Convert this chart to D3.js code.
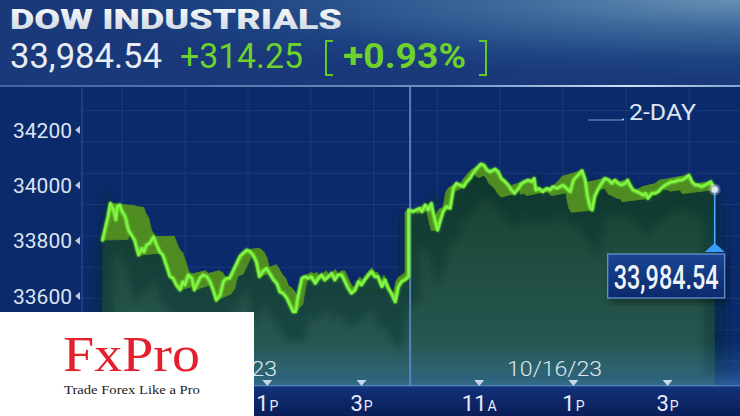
<!DOCTYPE html>
<html><head><meta charset="utf-8">
<script src="https://cdn.jsdelivr.net/npm/d3@7"></script>
<style>html,body{margin:0;padding:0;background:#0b2a6c;overflow:hidden}svg{display:block}</style>
</head><body><svg id="c" width="740" height="416"></svg>
<script>
// ---------------- data ----------------
const title = "DOW INDUSTRIALS";
const rangeLabel = "2-DAY";
const dayDates = ["10/13/23", "10/16/23"];
const dateLabelTimes = ["12:12", "12:36"];
const day1Times = ["9:30","9:33","9:37","9:40","9:44","9:47","9:49","9:52","9:55","9:59",
"10:03","10:07","10:11","10:16","10:20","10:23","10:26","10:30","10:35","10:39",
"10:43","10:47","10:52","10:56","11:00","11:04","11:09","11:12","11:15","11:19",
"11:24","11:27","11:30","11:34","11:38","11:43","11:47","11:51","11:55","12:00",
"12:04","12:08","12:12","12:17","12:21","12:25","12:29","12:34","12:38","12:42",
"12:46","12:50","12:54","12:59","13:03","13:08","13:12","13:16","13:20","13:25",
"13:29","13:33","13:36","13:39","13:44","13:48","13:52","13:56","14:01","14:05",
"14:09","14:13","14:18","14:22","14:26","14:30","14:35","14:39","14:43","14:47",
"14:52","14:56","15:00","15:04","15:09","15:13","15:17","15:21","15:26","15:30",
"15:34","15:38","15:43","15:47","15:51","15:55","16:00"];
const day1Values = [33802,33838,33887,33935,33911,33875,33923,33929,33905,33887,
33838,33820,33802,33748,33772,33760,33784,33790,33814,33784,
33760,33748,33706,33670,33664,33640,33622,33652,33640,33676,
33664,33622,33640,33664,33676,33670,33652,33622,33585,33604,
33652,33664,33664,33694,33718,33742,33754,33766,33760,33748,
33724,33670,33688,33700,33682,33658,33646,33615,33610,33592,
33567,33543,33543,33597,33664,33670,33664,33670,33646,33664,
33676,33658,33670,33682,33658,33676,33676,33652,33628,33610,
33622,33652,33640,33658,33676,33688,33670,33670,33634,33658,
33628,33610,33579,33634,33652,33658,33670.29];
const day2Times = ["9:30","9:36","9:40","9:44","9:47","9:51","9:55","9:59","10:01","10:05",
"10:07","10:10","10:14","10:18","10:23","10:27","10:31","10:35","10:40","10:44",
"10:48","10:52","10:57","11:02","11:06","11:10","11:14","11:20","11:24","11:28",
"11:33","11:37","11:41","11:45","11:50","11:54","11:58","12:02","12:07","12:10",
"12:12","12:16","12:21","12:26","12:30","12:34","12:39","12:43","12:47","12:51",
"12:56","13:00","13:04","13:06","13:11","13:15","13:18","13:21","13:24","13:27",
"13:32","13:36","13:40","13:45","13:49","13:53","13:57","14:01","14:06","14:09",
"14:12","14:16","14:21","14:25","14:29","14:32","14:35","14:40","14:44","14:48",
"14:52","14:57","15:01","15:05","15:09","15:14","15:18","15:22","15:27","15:31",
"15:35","15:39","15:43","15:48","15:52","15:55","15:57","16:00"];
const day2Values = [33911,33905,33911,33917,33905,33929,33911,33935,33905,33857,
33838,33868,33905,33923,33917,33989,34007,34001,33995,34013,
34025,34043,34061,34077,34073,34055,34049,34059,34049,34025,
34013,34001,33983,33971,33989,34007,34013,34019,34013,34025,
33983,33989,33977,33989,33983,33995,33989,33995,34001,33989,
33977,34019,34031,34037,34053,34019,33959,33923,33911,33959,
33989,34007,34025,34019,34007,34019,34007,34001,34007,34019,
34001,33983,33977,33971,33965,33971,33953,33971,33971,33977,
33989,34001,34007,34013,34013,34019,34019,34025,34037,34013,
34001,34001,33995,34001,34007,34013,34001,33984.54];
const yTickValues = [33600, 33800, 34000, 34200];
const xTickTimes = ["11:00", "13:00", "15:00"];
const xTickLabels = [["11","A"], ["1","P"], ["3","P"]];
const brandName = "FxPro";
const brandTagline = "Trade Forex Like a Pro";

// ---------------- helpers ----------------
const OPEN = 9*60+30, SESSION = 390;
function sessMin(t, day) { const [h,m] = t.split(":").map(Number); return day*SESSION + h*60+m - OPEN; }
const points = [];
day1Times.forEach((t,i)=>points.push({m:sessMin(t,0), v:day1Values[i]}));
day2Times.forEach((t,i)=>points.push({m:sessMin(t,1), v:day2Values[i]}));
const lastPrice = day2Values[day2Values.length-1];
const prevClose = day1Values[day1Values.length-1];
const chg = lastPrice - prevClose, pct = chg/prevClose*100;
const fmt = d3.format(",.2f");

const svg = d3.select("#c");
const x = d3.scaleLinear().domain([0, 2*SESSION]).range([102.5, 714.7]);
const y = d3.scaleLinear().domain([33600, 34200]).range([296, 130]);
const plotTop = 87, plotBottom = 386, plotLeft = 82;
const logo = {x:0, y:312, w:254, h:104};

// text squeezed horizontally to a target width (condensed look)
function fitText(parent, str, x0, y0, width, attrs, anchor) {
  const g = parent.append("g");
  const t = g.append("text").attr("x",0).attr("y",0).text(str);
  Object.entries(attrs).forEach(([k,v])=>t.attr(k,v));
  const w = t.node().getComputedTextLength();
  const s = width / w;
  const left = anchor === "middle" ? x0 - width/2 : (anchor === "end" ? x0 - width : x0);
  g.attr("transform", `translate(${left},${y0}) scale(${s},1)`);
  return g;
}

const defs = svg.append("defs");
function lin(id, x1,y1,x2,y2, stops){
  const g = defs.append("linearGradient").attr("id",id).attr("x1",x1).attr("y1",y1).attr("x2",x2).attr("y2",y2);
  stops.forEach(s=>g.append("stop").attr("offset",s[0]).attr("stop-color",s[1]).attr("stop-opacity",s[2]===undefined?1:s[2]));
}
const rg = defs.append("radialGradient").attr("id","hdr").attr("cx","1").attr("cy","0").attr("r","0.9");
[[0,"#6890b4"],[0.35,"#3d6a9c"],[0.75,"#1f4583"],[1,"#19397a"]].forEach(s=>rg.append("stop").attr("offset",s[0]).attr("stop-color",s[1]));
lin("hline","0","0","1","0",[[0,"#5f86bf",0.6],[0.6,"#86a9d6",0.8],[0.85,"#d0e4f5",1],[1,"#8fb0d6",0.9]]);
lin("areaG","0","0","0","1",[[0,"#143d2e"],[0.35,"#1d4a3c"],[1,"#2a5c58"]]);
lin("glow","0","0","0","1",[[0,"#2f6a9a",0],[0.7,"#3a78b0",0.35],[1,"#4a8cc8",0.55]]);
lin("band","0","0","0","1",[[0,"#12327a"],[1,"#091d58"]]);
lin("box","0","0","0","1",[[0,"#1a4592"],[1,"#0c2a6e"]]);
lin("ttl","0","0","0","1",[[0,"#ffffff"],[1,"#c9d3de"]]);
const f1 = defs.append("filter").attr("id","gl").attr("x","-20%").attr("y","-20%").attr("width","140%").attr("height","140%");
f1.append("feGaussianBlur").attr("stdDeviation",1.2).attr("result","b");
const mg = f1.append("feMerge"); mg.append("feMergeNode").attr("in","b"); mg.append("feMergeNode").attr("in","SourceGraphic");
const f2 = defs.append("filter").attr("id","blurA").attr("x","-5%").attr("y","-5%").attr("width","110%").attr("height","110%");
f2.append("feGaussianBlur").attr("stdDeviation",3);
defs.append("clipPath").attr("id","outsideLogo").attr("clipPathUnits","userSpaceOnUse")
  .append("rect").attr("x",logo.x+logo.w).attr("y",0).attr("width",740).attr("height",416);

// background
svg.append("rect").attr("width",740).attr("height",416).attr("fill","#0b2a6c");
svg.append("rect").attr("width",740).attr("height",plotTop-1).attr("fill","url(#hdr)");
svg.append("rect").attr("y",plotTop-2).attr("width",740).attr("height",2).attr("fill","url(#hline)");

// faint grid
const gGrid = svg.append("g").attr("stroke","#ffffff").attr("stroke-opacity",0.07).attr("stroke-width",1);
d3.range(110.7, plotBottom, 31.3).forEach(yy=>gGrid.append("line").attr("x1",plotLeft).attr("x2",740).attr("y1",yy).attr("y2",yy));
d3.range(122, 740, 63).forEach(xx=>gGrid.append("line").attr("x1",xx).attr("x2",xx).attr("y1",plotTop).attr("y2",plotBottom));

// perspective ribbon geometry
const V = [372, 232], k = 0.095;
const front = points.map(p=>[x(p.m), y(p.v)]);
const back = front.map(p=>[p[0]+k*(V[0]-p[0]), p[1]+k*(V[1]-p[1])]);

// area under line
const area = d3.area().x(d=>d[0]).y0(plotBottom).y1(d=>d[1]);
svg.append("path").attr("d",area(back)).attr("fill","url(#areaG)");
svg.append("path").attr("d",area(front)).attr("fill","url(#areaG)");
svg.append("path").attr("d",area(front.map(p=>[p[0],p[1]+18]))).attr("fill","none")
  .attr("stroke","#0e2c24").attr("stroke-width",22).attr("stroke-opacity",0.35).attr("filter","url(#blurA)");

// bottom glow & axis band
svg.append("rect").attr("x",plotLeft).attr("y",340).attr("width",740-plotLeft).attr("height",plotBottom-340).attr("fill","url(#glow)");
svg.append("rect").attr("x",0).attr("y",plotBottom).attr("width",740).attr("height",416-plotBottom).attr("fill","url(#band)");
svg.append("rect").attr("x",plotLeft).attr("y",plotBottom-1).attr("width",740-plotLeft).attr("height",1.5).attr("fill","#5d95cf").attr("opacity",0.6);

// day divider
svg.append("line").attr("x1",x(SESSION)+1.5).attr("x2",x(SESSION)+1.5).attr("y1",plotTop).attr("y2",plotBottom)
  .attr("stroke","#5f86c8").attr("stroke-width",2).attr("opacity",0.9);

// ribbon quads
const gRib = svg.append("g");
for (let i=0;i<front.length-1;i++){
  const q = [front[i], front[i+1], back[i+1], back[i]];
  gRib.append("path").attr("d","M"+q.map(p=>p.join(",")).join("L")+"Z")
    .attr("fill","#4f8d22").attr("stroke","#4f8d22").attr("stroke-width",0.8).attr("stroke-linejoin","round");
}

// main line
const line = d3.line().x(d=>d[0]).y(d=>d[1]);
svg.append("path").attr("d",line(front)).attr("fill","none").attr("stroke","#6ee62e")
  .attr("stroke-width",3.2).attr("stroke-linejoin","round").attr("stroke-linecap","round").attr("filter","url(#gl)");
svg.append("path").attr("d",line(front)).attr("fill","none").attr("stroke","#8cf552")
  .attr("stroke-width",1.4).attr("stroke-linejoin","round");

// left axis
svg.append("line").attr("x1",plotLeft).attr("x2",plotLeft).attr("y1",plotTop).attr("y2",416)
  .attr("stroke","#4a6fae").attr("stroke-opacity",0.6);
const gy = svg.append("g");
yTickValues.forEach(v=>{
  gy.append("text").attr("x",72).attr("y",y(v)+7.5).attr("text-anchor","end")
    .attr("font-family","Roboto").attr("font-size",21).attr("fill","#dbe4f0").text(v);
  gy.append("path").attr("d",`M${75},${y(v)} L${80},${y(v)-4} L${80},${y(v)+4} Z`).attr("fill","#b9c8dc");
});

// x axis ticks (labels lying fully under the brand box are not drawn, as in the reference)
const gx = svg.append("g");
[0,1].forEach(day=>{
  xTickTimes.forEach((t,i)=>{
    const xx = x(sessMin(t,day));
    gx.append("path").attr("d",`M${xx-5},${380} L${xx+5},${380} L${xx},${386} Z`).attr("fill","#c9d6e8");
    if (xx + 12 < logo.x + logo.w) return;
    const tx = gx.append("text").attr("x",xx).attr("y",411).attr("text-anchor","middle")
      .attr("font-family","Roboto").attr("fill","#e6edf7");
    tx.append("tspan").attr("font-size",22).text(xTickLabels[i][0]);
    tx.append("tspan").attr("font-size",14).attr("dx",1).text(xTickLabels[i][1]);
  });
  const dg = gx.append("g").attr("clip-path","url(#outsideLogo)");
  fitText(dg, dayDates[day], x(sessMin(dateLabelTimes[day],day)), 376, 95,
    {"font-family":"Roboto","font-weight":300,"font-size":21,"fill":"#dfe7f2"}, "middle");
});

// endpoint marker and price box
const xe = x(points[points.length-1].m), ye = y(lastPrice);
svg.append("line").attr("x1",xe).attr("x2",xe).attr("y1",ye).attr("y2",245).attr("stroke","#4aa6ff").attr("stroke-width",1.6);
svg.append("circle").attr("cx",xe).attr("cy",ye).attr("r",6).attr("fill","#ffffff").attr("opacity",0.25);
svg.append("circle").attr("cx",xe).attr("cy",ye).attr("r",3.6).attr("fill","#dfe9f3").attr("stroke","#9fb4c8").attr("stroke-width",1);
svg.append("path").attr("d",`M${xe-10},252 L${xe+10},252 L${xe},243 Z`).attr("fill","#3a9cff");
svg.append("rect").attr("x",xe-104).attr("y",257).attr("width",117).attr("height",46).attr("fill","#000").attr("opacity",0.35).attr("filter","url(#blurA)");
svg.append("rect").attr("x",xe-107).attr("y",254).attr("width",117).attr("height",44)
  .attr("fill","url(#box)").attr("stroke","#6a9ad8").attr("stroke-width",1.2);
fitText(svg, fmt(lastPrice), xe-48.5, 288.5, 105,
  {"font-family":"Roboto","font-weight":500,"font-size":33,"fill":"#eef3f8"}, "middle");

// 2-DAY label
svg.append("line").attr("x1",588).attr("x2",622).attr("y1",120).attr("y2",120).attr("stroke","#7d9cc8").attr("stroke-width",1);
svg.append("circle").attr("cx",623).attr("cy",119.5).attr("r",1).attr("fill","#c8d8ec");
fitText(svg, rangeLabel, 629, 120, 67, {"font-family":"Roboto","font-size":22,"fill":"#dde7f3"});

// header
fitText(svg, title, 10, 28.5, 332, {"font-family":"Roboto","font-weight":900,"font-size":28,"fill":"url(#ttl)"});
fitText(svg, fmt(lastPrice), 10, 67.5, 152, {"font-family":"Roboto","font-size":35,"fill":"#e6edf4"});
fitText(svg, "+"+fmt(chg), 180, 67.5, 123, {"font-family":"Roboto","font-size":35,"fill":"#6ed12c"});
svg.append("path").attr("d","M333,41 L326,41 L326,75 L333,75").attr("fill","none").attr("stroke","#63c82a").attr("stroke-width",2);
svg.append("path").attr("d","M479,41 L486,41 L486,75 L479,75").attr("fill","none").attr("stroke","#63c82a").attr("stroke-width",2);
fitText(svg, "+"+d3.format(".2f")(pct)+"%", 343, 67.5, 123, {"font-family":"Roboto","font-weight":700,"font-size":35,"fill":"#6ed12c"});

// brand box
svg.append("rect").attr("x",logo.x).attr("y",logo.y).attr("width",logo.w).attr("height",logo.h).attr("fill","#ffffff");
fitText(svg, brandName, 63, 370.5, 137, {"font-family":"Liberation Serif","font-size":50,"fill":"#e3202b"});
fitText(svg, brandTagline, 64, 393.5, 136, {"font-family":"Liberation Serif","font-size":13.5,"fill":"#222"});
</script></body></html>
